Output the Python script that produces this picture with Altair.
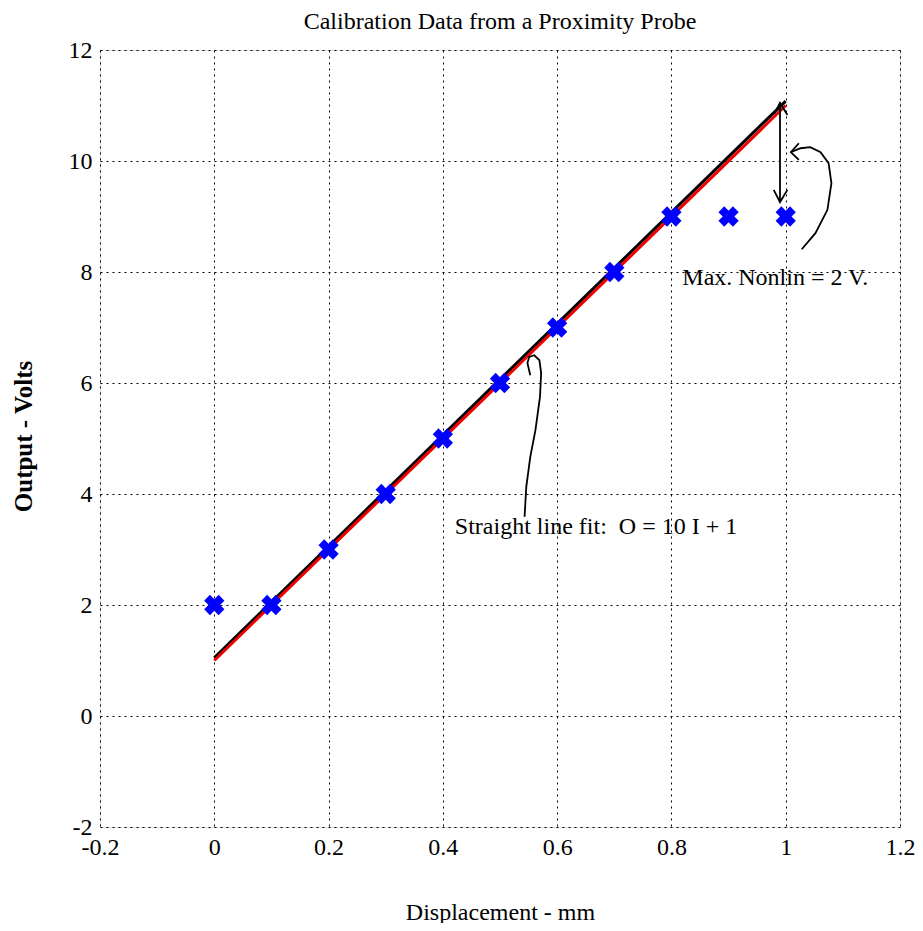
import altair as alt
import pandas as pd

# calibration data
disp = [0.0, 0.1, 0.2, 0.3, 0.4, 0.5, 0.6, 0.7, 0.8, 0.9, 1.0]
volts = [2, 2, 3, 4, 5, 6, 7, 8, 9, 9, 9]

# straight line fits
fit_x = [0.0, 1.0]
fit_red = [1.0, 11.0]
fit_black = [1.05, 11.08]

x_ticks = [-0.2, 0, 0.2, 0.4, 0.6, 0.8, 1.0, 1.2]
y_ticks = [-2, 0, 2, 4, 6, 8, 10, 12]

# annotation strokes (data units)
arrow_v_x = [0.990, 0.990]
arrow_v_y = [11.05, 9.26]
head_top_x = [0.980, 0.990, 1.003]
head_top_y = [10.85, 11.05, 10.83]
head_bot_x = [0.979, 0.990, 1.003]
head_bot_y = [9.48, 9.26, 9.48]
curve1_x = [1.028, 1.052, 1.073, 1.080, 1.075, 1.061, 1.043, 1.026, 1.009]
curve1_y = [8.41, 8.70, 9.12, 9.60, 9.96, 10.16, 10.25, 10.23, 10.16]
curve1_head_x = [1.023, 1.009, 1.023]
curve1_head_y = [10.32, 10.16, 10.02]
curve2_x = [0.543, 0.546, 0.553, 0.562, 0.570, 0.572, 0.569, 0.560, 0.551, 0.548, 0.553]
curve2_y = [3.59, 4.13, 4.67, 5.15, 5.75, 6.18, 6.41, 6.50, 6.47, 6.36, 6.14]

label_nonlin = "Max. Nonlin = 2 V."
label_fit = "Straight line fit:\u00a0 O = 10 I + 1"

FONT = "Liberation Serif"

pts = pd.DataFrame({"x": disp, "y": volts})
fits = pd.DataFrame({
    "x": fit_x + fit_x,
    "y": fit_black + fit_red,
    "which": ["black", "black", "red", "red"],
})

segs = []
for name, xs, ys in [
    ("v", arrow_v_x, arrow_v_y),
    ("ht", head_top_x, head_top_y),
    ("hb", head_bot_x, head_bot_y),
    ("c1", curve1_x, curve1_y),
    ("c1h", curve1_head_x, curve1_head_y),
    ("c2", curve2_x, curve2_y),
]:
    for i, (a, b) in enumerate(zip(xs, ys)):
        segs.append({"x": a, "y": b, "seg": name, "o": i})
ann = pd.DataFrame(segs)

texts = pd.DataFrame({
    "x": [0.819, 0.421],
    "y": [7.89, 3.41],
    "t": [label_nonlin, label_fit],
})

xscale = alt.Scale(domain=[-0.2, 1.2], nice=False, zero=False)
yscale = alt.Scale(domain=[-2, 12], nice=False, zero=False)

lab_expr = "datum.value < 0 ? '-' + format(-datum.value, '') : format(datum.value, '')"

xaxis = alt.Axis(
    values=x_ticks, grid=True, gridColor="black", gridDash=[2, 4], gridWidth=1,
    gridOpacity=1, ticks=False, domain=False,
    labelFont=FONT, labelFontSize=24, labelColor="black", labelPadding=8,
    labelExpr=lab_expr, labelFlush=False,
    title="Displacement - mm", titleFont=FONT, titleFontSize=24, titleFontWeight="normal",
    titleColor="black", titleY=85, titleBaseline="middle",
)
yaxis = alt.Axis(
    values=y_ticks, grid=True, gridColor="black", gridDash=[2, 4], gridWidth=1,
    gridOpacity=1, ticks=False, domain=False,
    labelFont=FONT, labelFontSize=24, labelColor="black", labelPadding=8,
    labelExpr=lab_expr, labelFlush=False,
    title="Output - Volts", titleFont=FONT, titleFontSize=25, titleFontWeight="bold",
    titleColor="black", titleX=-77, titleY=386, titleAngle=-90, titleBaseline="middle",
    titleAlign="center",
)

lines = alt.Chart(fits).mark_line(strokeWidth=3).encode(
    x=alt.X("x:Q", scale=xscale, axis=xaxis),
    y=alt.Y("y:Q", scale=yscale, axis=yaxis),
    color=alt.Color("which:N", scale=alt.Scale(domain=["black", "red"], range=["black", "#ee0000"]), legend=None),
    detail="which:N",
)

points = alt.Chart(pts).mark_point(shape="cross", angle=45, filled=True, size=420, color="#0000ff", opacity=1).encode(
    x=alt.X("x:Q", scale=xscale),
    y=alt.Y("y:Q", scale=yscale),
)

annot = alt.Chart(ann).mark_line(color="black", strokeWidth=1.8).encode(
    x=alt.X("x:Q", scale=xscale),
    y=alt.Y("y:Q", scale=yscale),
    detail="seg:N",
    order="o:Q",
)

txt = alt.Chart(texts).mark_text(font=FONT, fontSize=24, align="left", baseline="middle", color="black").encode(
    x=alt.X("x:Q", scale=xscale),
    y=alt.Y("y:Q", scale=yscale),
    text="t:N",
)

chart = alt.layer(lines, annot, points, txt).properties(
    width=800,
    height=777,
    title=alt.TitleParams("Calibration Data from a Proximity Probe", font=FONT, fontSize=24,
                          fontWeight="normal", color="black", anchor="middle", offset=4),
    autosize=alt.AutoSizeParams(type="none"),
    padding={"left": 92, "top": 42, "right": 15, "bottom": 96},
).configure_view(stroke="black", strokeWidth=2.5).configure(background="white")

chart.save("out.html", embed_options={"renderer": "svg", "actions": False})
